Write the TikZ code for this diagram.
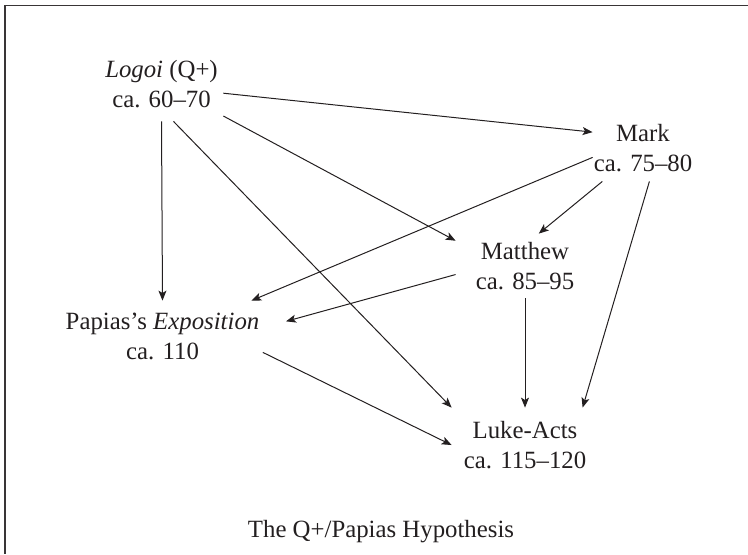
\documentclass[tikz,border=0pt]{standalone}
\usepackage{fontspec}
\setmainfont{Liberation Serif}
\usepackage{xcolor}
\definecolor{Ink}{RGB}{35,31,32}
\usepackage{tikz}
\usetikzlibrary{arrows.meta}
\tikzstyle{Work}=[inner sep=0pt,align=center,text=Ink,
font=\fontsize{12.4}{15}\selectfont]
\tikzstyle{Edge}=[draw=Ink,line width=.5pt,
-{Stealth[length=5pt,width=4pt,inset=1.2pt]}]
\tikzstyle{Caption}=[text=Ink,font=\fontsize{12.4}{15}\selectfont,anchor=base]
\tikzstyle{Frame}=[draw=Ink!90,line width=.7pt]

\begin{document}
\begin{tikzpicture}[x=.5pt,y=-.5pt]
        \useasboundingbox(0,0)rectangle(748,554);
        \draw[Frame](748,5.5)--(5,5.5)--(5,554);
        \node[Work,minimum width=61.5pt,minimum height=36.5pt](logoi)
            at(161.5,84.5){\textit{Logoi} (Q+)\\ca. 60--70};
        \node[Work,minimum width=50pt,minimum height=32.5pt](mark)
            at(643,148.5){Mark\\ca. 75--80};
        \node[Work,minimum width=69pt,minimum height=32pt](matthew)
            at(525,266){Matthew\\ca. 85--95};
        \node[Work,minimum width=100pt,minimum height=35.5pt](papias)
            at(162.5,336.5){Papias’s \textit{Exposition}\\ca. 110};
        \node[Work,minimum width=73pt,minimum height=37pt](luke)
            at(525,445){Luke-Acts\\ca. 115--120};
        \node[Caption](caption)at(381,537){The Q+/Papias Hypothesis};
        \draw[Edge](logoi.-8)--(mark.162);
        \draw[Edge](logoi.-27)--(matthew.160);
        \draw[Edge](logoi.south)--(papias.north);
        \draw[Edge](logoi.-72)--(luke.153);
        \draw[Edge](mark.190)--(papias.22);
        \draw[Edge](mark.219)--(matthew.67);
        \draw[Edge](mark.281)--(luke.33);
        \draw[Edge,shorten >=12pt](matthew.187)--(papias.5);
        \draw[Edge](matthew.south)--(luke.north);
        \draw[Edge](papias.-9)--(luke.west);
    \end{tikzpicture}
\end{document}
